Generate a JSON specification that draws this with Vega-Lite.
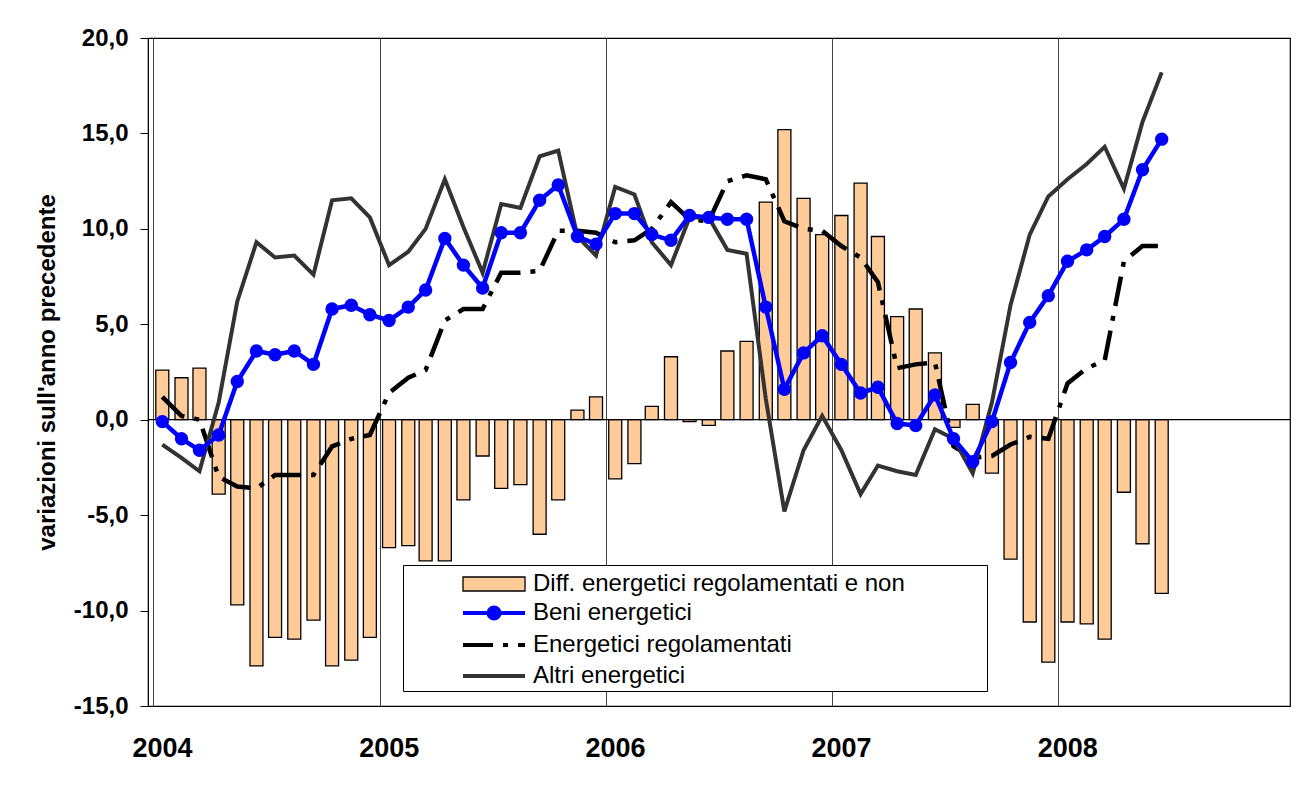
{
  "$schema": "https://vega.github.io/schema/vega-lite/v6.json",
  "width": 1142,
  "height": 668,
  "autosize": {"type": "none"},
  "padding": {"left": 148, "top": 38, "right": 9, "bottom": 104},
  "background": "white",
  "config": {
    "font": "Liberation Sans",
    "view": {"stroke": "black", "strokeWidth": 1.2},
    "legend": {
      "title": null,
      "orient": "none",
      "direction": "vertical",
      "labelFont": "Liberation Sans",
      "labelFontSize": 24,
      "labelColor": "black",
      "labelLimit": 0
    }
  },
  "data": {
    "values": [
      {"date": "2004-01-16", "diff": 2.6, "beni": -0.1, "reg": 1.2, "altri": -1.3},
      {"date": "2004-02-16", "diff": 2.2, "beni": -1.0, "reg": 0.2, "altri": -2.0},
      {"date": "2004-03-16", "diff": 2.7, "beni": -1.6, "reg": 0.0, "altri": -2.7},
      {"date": "2004-04-16", "diff": -3.9, "beni": -0.8, "reg": -3.0, "altri": 0.9},
      {"date": "2004-05-16", "diff": -9.7, "beni": 2.0, "reg": -3.5, "altri": 6.2},
      {"date": "2004-06-16", "diff": -12.9, "beni": 3.6, "reg": -3.6, "altri": 9.3},
      {"date": "2004-07-16", "diff": -11.4, "beni": 3.4, "reg": -2.9, "altri": 8.5},
      {"date": "2004-08-16", "diff": -11.5, "beni": 3.6, "reg": -2.9, "altri": 8.6},
      {"date": "2004-09-16", "diff": -10.5, "beni": 2.9, "reg": -2.9, "altri": 7.6},
      {"date": "2004-10-16", "diff": -12.9, "beni": 5.8, "reg": -1.4, "altri": 11.5},
      {"date": "2004-11-16", "diff": -12.6, "beni": 6.0, "reg": -1.0, "altri": 11.6},
      {"date": "2004-12-16", "diff": -11.4, "beni": 5.5, "reg": -0.8, "altri": 10.6},
      {"date": "2005-01-16", "diff": -6.7, "beni": 5.2, "reg": 1.4, "altri": 8.1},
      {"date": "2005-02-16", "diff": -6.6, "beni": 5.9, "reg": 2.2, "altri": 8.8},
      {"date": "2005-03-16", "diff": -7.4, "beni": 6.8, "reg": 2.6, "altri": 10.0},
      {"date": "2005-04-16", "diff": -7.4, "beni": 9.5, "reg": 5.2, "altri": 12.6},
      {"date": "2005-05-16", "diff": -4.2, "beni": 8.1, "reg": 5.8, "altri": 10.1},
      {"date": "2005-06-16", "diff": -1.9, "beni": 6.9, "reg": 5.8, "altri": 7.7},
      {"date": "2005-07-16", "diff": -3.6, "beni": 9.8, "reg": 7.7, "altri": 11.3},
      {"date": "2005-08-16", "diff": -3.4, "beni": 9.8, "reg": 7.7, "altri": 11.1},
      {"date": "2005-09-16", "diff": -6.0, "beni": 11.5, "reg": 7.8, "altri": 13.8},
      {"date": "2005-10-16", "diff": -4.2, "beni": 12.3, "reg": 9.9, "altri": 14.1},
      {"date": "2005-11-16", "diff": 0.5, "beni": 9.6, "reg": 9.9, "altri": 9.6},
      {"date": "2005-12-16", "diff": 1.2, "beni": 9.2, "reg": 9.8, "altri": 8.6},
      {"date": "2006-01-16", "diff": -3.1, "beni": 10.8, "reg": 9.3, "altri": 12.2},
      {"date": "2006-02-16", "diff": -2.3, "beni": 10.8, "reg": 9.4, "altri": 11.8},
      {"date": "2006-03-16", "diff": 0.7, "beni": 9.7, "reg": 10.0, "altri": 9.3},
      {"date": "2006-04-16", "diff": 3.3, "beni": 9.4, "reg": 11.4, "altri": 8.1},
      {"date": "2006-05-16", "diff": -0.1, "beni": 10.7, "reg": 10.5, "altri": 10.6},
      {"date": "2006-06-16", "diff": -0.3, "beni": 10.6, "reg": 10.4, "altri": 10.6},
      {"date": "2006-07-16", "diff": 3.6, "beni": 10.5, "reg": 12.5, "altri": 8.9},
      {"date": "2006-08-16", "diff": 4.1, "beni": 10.5, "reg": 12.8, "altri": 8.7},
      {"date": "2006-09-16", "diff": 11.4, "beni": 5.9, "reg": 12.6, "altri": 1.1},
      {"date": "2006-10-16", "diff": 15.2, "beni": 1.6, "reg": 10.4, "altri": -4.8},
      {"date": "2006-11-16", "diff": 11.6, "beni": 3.5, "reg": 10.0, "altri": -1.6},
      {"date": "2006-12-16", "diff": 9.7, "beni": 4.4, "reg": 9.9, "altri": 0.2},
      {"date": "2007-01-16", "diff": 10.7, "beni": 2.9, "reg": 9.1, "altri": -1.6},
      {"date": "2007-02-16", "diff": 12.4, "beni": 1.4, "reg": 8.5, "altri": -3.9},
      {"date": "2007-03-16", "diff": 9.6, "beni": 1.7, "reg": 7.2, "altri": -2.4},
      {"date": "2007-04-16", "diff": 5.4, "beni": -0.2, "reg": 2.7, "altri": -2.7},
      {"date": "2007-05-16", "diff": 5.8, "beni": -0.3, "reg": 2.9, "altri": -2.9},
      {"date": "2007-06-16", "diff": 3.5, "beni": 1.3, "reg": 3.0, "altri": -0.5},
      {"date": "2007-07-16", "diff": -0.4, "beni": -1.0, "reg": -1.4, "altri": -1.0},
      {"date": "2007-08-16", "diff": 0.8, "beni": -2.2, "reg": -2.0, "altri": -2.8},
      {"date": "2007-09-16", "diff": -2.8, "beni": -0.1, "reg": -1.9, "altri": 0.9},
      {"date": "2007-10-16", "diff": -7.3, "beni": 3.0, "reg": -1.3, "altri": 6.0},
      {"date": "2007-11-16", "diff": -10.6, "beni": 5.1, "reg": -0.9, "altri": 9.7},
      {"date": "2007-12-16", "diff": -12.7, "beni": 6.5, "reg": -1.0, "altri": 11.7},
      {"date": "2008-01-16", "diff": -10.6, "beni": 8.3, "reg": 1.9, "altri": 12.6},
      {"date": "2008-02-16", "diff": -10.7, "beni": 8.9, "reg": 2.7, "altri": 13.4},
      {"date": "2008-03-16", "diff": -11.5, "beni": 9.6, "reg": 3.1, "altri": 14.3},
      {"date": "2008-04-16", "diff": -3.8, "beni": 10.5, "reg": 8.3, "altri": 12.1},
      {"date": "2008-05-16", "diff": -6.5, "beni": 13.1, "reg": 9.1, "altri": 15.6},
      {"date": "2008-06-16", "diff": -9.1, "beni": 14.7, "reg": 9.1, "altri": 18.2}
    ]
  },
  "layer": [
    {
      "mark": {"type": "bar", "size": 13, "stroke": "black", "strokeWidth": 1.3},
      "encoding": {
        "x": {
          "field": "date",
          "type": "temporal",
          "scale": {
            "type": "utc",
            "domain": [
              {"year": 2004, "month": 1, "date": 1, "utc": true},
              {"year": 2009, "month": 1, "date": 1, "utc": true}
            ]
          },
          "axis": {
            "title": null,
            "values": [
              {"year": 2004, "month": 1, "date": 1, "utc": true},
              {"year": 2005, "month": 1, "date": 1, "utc": true},
              {"year": 2006, "month": 1, "date": 1, "utc": true},
              {"year": 2007, "month": 1, "date": 1, "utc": true},
              {"year": 2008, "month": 1, "date": 1, "utc": true}
            ],
            "labelExpr": "utcFormat(datum.value, '%Y')",
            "labelFlush": false,
            "labelOverlap": false,
            "labelBound": false,
            "labelOffset": 9,
            "labelPadding": 29,
            "labelBaseline": "top",
            "labelFont": "Liberation Sans",
            "labelFontSize": 27,
            "labelFontWeight": "bold",
            "labelColor": "black",
            "ticks": false,
            "domain": false,
            "grid": true,
            "gridColor": "#444444",
            "gridWidth": 1
          }
        },
        "y": {
          "field": "diff",
          "type": "quantitative",
          "scale": {"domain": [-15, 20], "nice": false, "zero": false},
          "axis": {
            "title": "variazioni sull'anno precedente",
            "values": [-15, -10, -5, 0, 5, 10, 15, 20],
            "labelExpr": "replace(replace(format(datum.value, '.1f'), '.', ','), '\u2212', '-')",
            "labelFont": "Liberation Sans",
            "labelFontSize": 24,
            "labelFontWeight": "bold",
            "labelColor": "black",
            "labelPadding": 12,
            "tickSize": 8,
            "tickColor": "black",
            "tickWidth": 1,
            "domainColor": "black",
            "grid": false,
            "titleFont": "Liberation Sans",
            "titleFontSize": 24,
            "titleFontWeight": "bold",
            "titleColor": "black",
            "titlePadding": 14
          }
        },
        "fill": {
          "datum": "Diff. energetici regolamentati e non",
          "scale": {"range": ["#FFCC99"]},
          "legend": {
            "legendX": 310,
            "legendY": 534,
            "padding": 0,
            "zindex": 2,
            "labelOffset": 51,
            "symbolOffset": 0,
            "symbolSize": 196,
            "symbolType": "M-1,-1H7.857V1H-1Z",
            "symbolStrokeColor": "black",
            "symbolStrokeWidth": 1.3,
            "symbolOpacity": 1
          }
        }
      }
    },
    {
      "data": {"values": [{}]},
      "mark": {"type": "rule", "color": "black", "strokeWidth": 1.2},
      "encoding": {"y": {"datum": 0}}
    },
    {
      "mark": {"type": "line", "color": "#000000", "strokeWidth": 4.5, "strokeCap": "butt"},
      "encoding": {
        "x": {"field": "date", "type": "temporal"},
        "y": {"field": "reg", "type": "quantitative"},
        "strokeDash": {
          "datum": "Energetici regolamentati",
          "scale": {"range": [[30, 10, 5, 10]]},
          "legend": {
            "legendX": 310,
            "legendY": 595,
            "padding": 0,
            "zindex": 2,
            "labelOffset": 51,
            "symbolOffset": 0,
            "symbolSize": 196,
            "symbolType": "M-1,0H7.857",
            "symbolStrokeColor": "black",
            "symbolStrokeWidth": 4,
            "symbolOpacity": 1
          }
        }
      }
    },
    {
      "mark": {"type": "line", "strokeWidth": 4},
      "encoding": {
        "x": {"field": "date", "type": "temporal"},
        "y": {"field": "altri", "type": "quantitative"},
        "color": {
          "datum": "Altri energetici",
          "scale": {
            "domain": ["Diff. energetici regolamentati e non", "Beni energetici", "Energetici regolamentati", "Altri energetici"],
            "range": ["#333333", "#333333", "#333333", "#333333"]
          },
          "legend": {
            "legendX": 255,
            "legendY": 527,
            "padding": 3,
            "zindex": 1,
            "fillColor": "white",
            "strokeColor": "black",
            "rowPadding": 8,
            "labelOffset": 182,
            "symbolOffset": 0,
            "symbolSize": 196,
            "symbolOpacity": 0,
            "labelOpacity": 0
          }
        },
        "opacity": {
          "datum": "Altri energetici",
          "scale": {"range": [1]},
          "legend": {
            "legendX": 310,
            "legendY": 626,
            "padding": 0,
            "zindex": 2,
            "labelOffset": 51,
            "symbolOffset": 0,
            "symbolSize": 196,
            "symbolType": "M-1,0H7.857",
            "symbolStrokeColor": "#333333",
            "symbolStrokeWidth": 4
          }
        }
      }
    },
    {
      "mark": {"type": "line", "color": "#0000FF", "strokeWidth": 4.5, "point": {"filled": true, "size": 130, "color": "#0000FF"}},
      "encoding": {
        "x": {"field": "date", "type": "temporal"},
        "y": {"field": "beni", "type": "quantitative"},
        "stroke": {
          "datum": "Beni energetici",
          "scale": {"range": ["#0000FF"]},
          "legend": {
            "legendX": 310,
            "legendY": 563,
            "padding": 0,
            "zindex": 2,
            "labelOffset": 51,
            "symbolOffset": 0,
            "symbolSize": 196,
            "symbolType": "M-1,0H7.857M2.64,0A0.79,0.79 0 1,0 4.22,0A0.79,0.79 0 1,0 2.64,0",
            "symbolFillColor": "#0000FF",
            "symbolStrokeWidth": 4,
            "symbolOpacity": 1
          }
        }
      }
    }
  ]
}
